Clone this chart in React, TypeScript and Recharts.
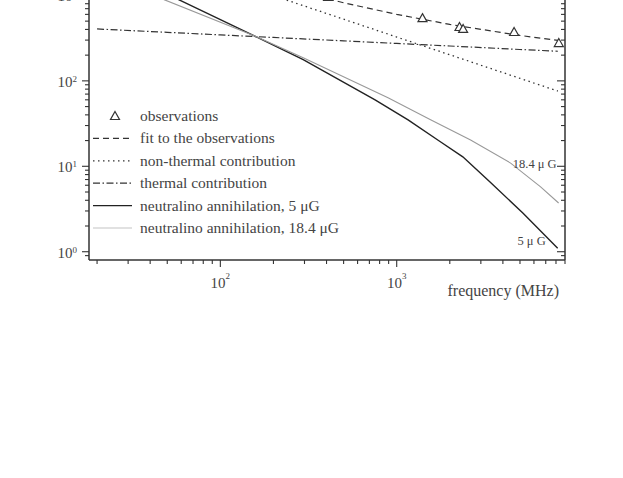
import React from 'react';
import { ComposedChart, Line, Scatter, XAxis, YAxis, Legend, LabelList, Label } from 'recharts';

// frequencies in MHz, flux densities in mJy
const modelFreq = [20, 50, 100, 200, 500, 1000, 2000, 5000, 8200];
const thermalFlux = [405, 370, 345, 322, 294, 274, 256, 233, 222];
const nonThermalFlux = [4900, 2600, 1607, 994, 527, 326, 202, 107, 76];
const fitFlux = [5305, 2970, 1952, 1316, 821, 600, 458, 340, 298];

const obsFreq = [408, 1400, 2270, 2380, 4630, 8300];
const obsFlux = [960, 542, 427, 405, 373, 277];

const freq5 = [20, 58, 158, 295, 754, 1160, 1760, 2370, 3370, 5190, 8180];
const flux5 = [2450, 893, 332, 177, 60, 35, 19.5, 12.9, 6.6, 2.84, 1.1];

const freq18 = [20, 48, 158, 295, 893, 1556, 2624, 4426, 6546, 8280];
const flux18 = [1830, 893, 332, 187, 63.4, 35, 20.3, 10.9, 5.75, 3.72];

const legendOrder = [
  'observations',
  'fit to the observations',
  'non-thermal contribution',
  'thermal contribution',
  'neutralino annihilation, 5 μG',
  'neutralino annihilation, 18.4 μG',
];

const xMajor = [100, 1000];
const xTicks = [20, 30, 40, 50, 60, 70, 80, 90, 100, 200, 300, 400, 500, 600, 700, 800, 900, 1000, 2000, 3000, 4000, 5000, 6000, 7000, 8000, 9000];
const yMajor = [1, 10, 100, 1000, 10000];
const yTicks = [0.9, 1, 2, 3, 4, 5, 6, 7, 8, 9, 10, 20, 30, 40, 50, 60, 70, 80, 90, 100, 200, 300, 400, 500, 600, 700, 800, 900, 1000, 2000, 3000, 4000, 5000, 6000, 7000, 8000, 9000, 10000];

const AXIS = '#333';
const TEXT = '#444';
const FONT = '"Liberation Serif", "DejaVu Serif", serif';

const toPoints = (f: number[], s: number[]) => f.map((freq, i) => ({ freq, flux: s[i] }));

const exponent = (v: number) => Math.round(Math.log10(v));

const LeftTick = (props: any) => {
  const { x, y, payload } = props;
  const major = yMajor.includes(payload.value);
  return (
    <g>
      <line x1={x - (major ? 7 : 4)} x2={x} y1={y} y2={y} stroke={AXIS} strokeWidth={1.1} />
      {major && (
        <text x={x - 12} y={y + 6} textAnchor="end" fontSize={15} fill={TEXT} fontFamily={FONT}>
          10<tspan dy={-5} fontSize={9}>{exponent(payload.value)}</tspan>
        </text>
      )}
    </g>
  );
};

// right-hand axis: ticks point into the plot
const RightTick = (props: any) => {
  const { x, y, payload } = props;
  const major = yMajor.includes(payload.value);
  return <line x1={x - (major ? 8 : 4)} x2={x} y1={y} y2={y} stroke={AXIS} strokeWidth={1.1} />;
};

const BottomTick = (props: any) => {
  const { x, y, payload } = props;
  const major = xMajor.includes(payload.value);
  return (
    <g>
      <line x1={x} x2={x} y1={y} y2={y + (major ? 7 : 4)} stroke={AXIS} strokeWidth={1.1} />
      {major && (
        <text x={x} y={y + 28} textAnchor="middle" fontSize={15} fill={TEXT} fontFamily={FONT}>
          10<tspan dy={-9} fontSize={9}>{exponent(payload.value)}</tspan>
        </text>
      )}
    </g>
  );
};

const Triangle = ({ cx, cy }: any) => (
  <path d={`M${cx},${cy - 4.5}L${cx + 4.5},${cy + 3.5}L${cx - 4.5},${cy + 3.5}Z`} fill="#fff" stroke={AXIS} strokeWidth={1.2} />
);

const LegendBox = ({ payload }: any) => {
  const rows = [...(payload || [])].sort((a: any, b: any) => legendOrder.indexOf(a.value) - legendOrder.indexOf(b.value));
  return (
    <svg width={280} height={140} style={{ display: 'block' }}>
      {rows.map((p: any, i: number) => {
        const y = 8 + i * 22.4;
        return (
          <g key={p.value}>
            {p.type === 'triangle' ? (
              <Triangle cx={25} cy={y} />
            ) : (
              <line x1={3} x2={42} y1={y} y2={y} stroke={p.color === '#999' ? '#c4c4c4' : p.color}
                strokeWidth={p.payload?.strokeWidth || 1.2} strokeDasharray={p.payload?.strokeDasharray} />
            )}
            <text x={50} y={y + 5} fontSize={15.5} fill={TEXT} fontFamily={FONT}>{p.value}</text>
          </g>
        );
      })}
    </svg>
  );
};

const endLabel = (text: string, last: number, dx: number, dy: number) => (props: any) => {
  const { x, y, index } = props;
  if (index !== last) return null;
  return (
    <text x={x + dx} y={y + dy} textAnchor="end" fontSize={12.5} fill={TEXT} fontFamily={FONT}>{text}</text>
  );
};

export default function App() {
  return (
    <div style={{ position: 'absolute', left: 0, top: -100 }}>
      <ComposedChart width={623} height={410} margin={{ top: 10, right: 57, bottom: 0, left: 39 }}>
        <XAxis dataKey="freq" type="number" scale="log" domain={[18, 9000]} allowDataOverflow ticks={xTicks}
          tickSize={0} tickMargin={0} tickLine={false} tick={<BottomTick />} height={50} interval={0}
          axisLine={{ stroke: AXIS, strokeWidth: 1.5 }}>
          <Label content={({ viewBox }: any) => (
            <text x={viewBox.x + viewBox.width - 6} y={viewBox.y + 36} textAnchor="end" fontSize={16} fill={TEXT} fontFamily={FONT}>
              frequency (MHz)
            </text>
          )} />
        </XAxis>
        <YAxis yAxisId="left" type="number" scale="log" domain={[0.8, 10000]} allowDataOverflow ticks={yTicks}
          tickSize={0} tickMargin={0} tickLine={false} tick={<LeftTick />} width={50} interval={0}
          axisLine={{ stroke: AXIS, strokeWidth: 1.5 }} />
        <YAxis yAxisId="right" orientation="right" type="number" scale="log" domain={[0.8, 10000]} allowDataOverflow
          ticks={yTicks} tickSize={0} tickMargin={0} tickLine={false} tick={<RightTick />} width={1} interval={0}
          axisLine={{ stroke: AXIS, strokeWidth: 1.5 }} />
        <Legend layout="vertical" align="center" verticalAlign="middle" content={<LegendBox />}
          wrapperStyle={{ left: 90, top: 208, width: 280, height: 140 }} />
        <Scatter yAxisId="left" name="observations" data={toPoints(obsFreq, obsFlux)} dataKey="flux"
          shape={<Triangle />} legendType="triangle" fill={AXIS} isAnimationActive={false} />
        <Line yAxisId="left" name="fit to the observations" data={toPoints(modelFreq, fitFlux)} dataKey="flux"
          stroke={AXIS} strokeWidth={1.2} strokeDasharray="6 4" dot={false} legendType="plainline" isAnimationActive={false} />
        <Line yAxisId="left" name="non-thermal contribution" data={toPoints(modelFreq, nonThermalFlux)} dataKey="flux"
          stroke={AXIS} strokeWidth={1.3} strokeDasharray="1.5 3.5" dot={false} legendType="plainline" isAnimationActive={false} />
        <Line yAxisId="left" name="thermal contribution" data={toPoints(modelFreq, thermalFlux)} dataKey="flux"
          stroke={AXIS} strokeWidth={1.2} strokeDasharray="7 2.5 1.5 2.5" dot={false} legendType="plainline" isAnimationActive={false} />
        <Line yAxisId="left" name="neutralino annihilation, 5 μG" data={toPoints(freq5, flux5)} dataKey="flux"
          stroke="#222" strokeWidth={1.4} dot={false} legendType="plainline" isAnimationActive={false}>
          <LabelList dataKey="flux" content={endLabel('5 μ G', freq5.length - 1, -12, -3)} />
        </Line>
        <Line yAxisId="left" name="neutralino annihilation, 18.4 μG" data={toPoints(freq18, flux18)} dataKey="flux"
          stroke="#999" strokeWidth={1.1} dot={false} legendType="plainline" isAnimationActive={false}>
          <LabelList dataKey="flux" content={endLabel('18.4 μ G', freq18.length - 1, -2, -35)} />
        </Line>
      </ComposedChart>
    </div>
  );
}
